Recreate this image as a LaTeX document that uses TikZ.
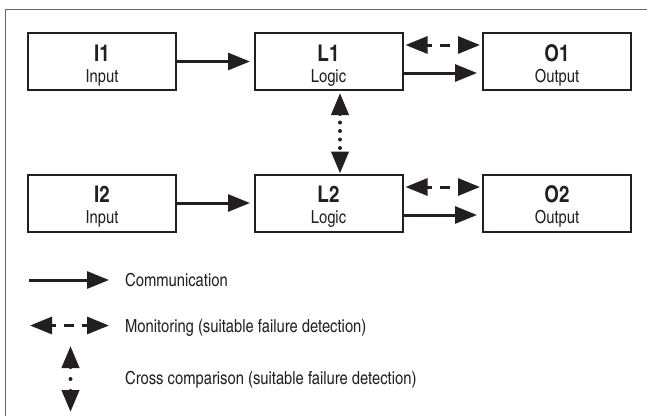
\documentclass[tikz,border=0pt]{standalone}
\usepackage{fontspec}
\setmainfont{texgyreheroscn}[Extension=.otf, UprightFont=*-regular, BoldFont=*-bold, ItalicFont=*-italic, BoldItalicFont=*-bolditalic]
\usetikzlibrary{arrows.meta}
\definecolor{ink}{HTML}{231F20}
\definecolor{framegray}{HTML}{666666}
\tikzset{
  box/.style={draw=ink, line width=2pt, minimum width=148pt, minimum height=57pt, inner sep=0pt},
  ttl/.style={anchor=base, inner sep=0pt, text=ink, font=\bfseries\fontsize{23}{23}\selectfont},
  sub/.style={anchor=base, inner sep=0pt, text=ink, font=\fontsize{18}{18}\selectfont},
  leg/.style={anchor=base west, inner sep=0pt, text=ink, font=\fontsize{18}{18}\selectfont},
  head/.tip={Triangle[length=22pt 0 0, width=17pt 0 0]},
  comm/.style={draw=ink, line width=3pt, -head},
  mon/.style={draw=ink, line width=3pt, head-head, dash pattern=on 10pt off 8pt, dash phase=5pt},
  cross/.style={draw=ink, line width=4pt, line cap=round, head-head, dash pattern=on 0pt off 8.5pt},
  crossleg/.style={draw=ink, line width=4pt, line cap=round, head-head, dash pattern=on 0pt off 12pt},
}
\begin{document}
\begin{tikzpicture}[x=1pt,y=-1pt]
\useasboundingbox (0,0) rectangle (647,416);
% frame
\draw[framegray, line width=1pt] (5,416) -- (5,9) -- (647,9);

% boxes
\node[box] (I1) at (102,61.5) {};
\node[box] (L1) at (328.5,61.5) {};
\node[box] (O1) at (557,61.5) {};
\node[box] (I2) at (102,203) {};
\node[box] (L2) at (328.5,203) {};
\node[box] (O2) at (557,203) {};

% labels
\node[ttl] (tI1) at (102,61) {I1};
\node[sub] (sI1) at (102,82.3) {Input};
\node[ttl] (tL1) at (328.5,61) {L1};
\node[sub] (sL1) at (328.5,82.3) {Logic};
\node[ttl] (tO1) at (557,61) {O1};
\node[sub] (sO1) at (557,82.3) {Output};
\node[ttl] (tI2) at (102,202.5) {I2};
\node[sub] (sI2) at (102,223.8) {Input};
\node[ttl] (tL2) at (328.5,202.5) {L2};
\node[sub] (sL2) at (328.5,223.8) {Logic};
\node[ttl] (tO2) at (557,202.5) {O2};
\node[sub] (sO2) at (557,223.8) {Output};

% connectors row 1
\draw[comm, shorten >=3.5pt] (I1) -- (L1);
\draw[comm, shorten >=5pt] ([yshift=-11.5pt]L1.east) -- ([yshift=-11.5pt]O1.west);
\draw[mon, shorten <=2pt, shorten >=2pt] ([yshift=16.5pt]L1.east) -- ([yshift=16.5pt]O1.west);
% connectors row 2
\draw[comm, shorten >=3.5pt] (I2) -- (L2);
\draw[comm, shorten >=5pt] ([yshift=-12pt]L2.east) -- ([yshift=-12pt]O2.west);
\draw[mon, shorten <=2pt, shorten >=2pt] ([yshift=16pt]L2.east) -- ([yshift=16pt]O2.west);
% cross comparison
\draw[cross] ([xshift=11.5pt,yshift=-2pt]L1.south) -- ([xshift=11.5pt]L2.north);

% legend
\coordinate (c1a) at (29,280);
\coordinate (c1b) at (109,280);
\coordinate (c2a) at (30,325.5);
\coordinate (c2b) at (109,325.5);
\coordinate (c3a) at (70.5,346);
\coordinate (c3b) at (70.5,412);
\draw[comm] (c1a) -- (c1b);
\draw[mon] (c2a) -- (c2b);
\draw[crossleg] (c3a) -- (c3b);
\node[leg] (lg1) at (125,286) {Communication};
\node[leg] (lg2) at (125,332.5) {Monitoring (suitable failure detection)};
\node[leg] (lg3) at (125,384.3) {Cross comparison (suitable failure detection)};
\end{tikzpicture}
\end{document}
